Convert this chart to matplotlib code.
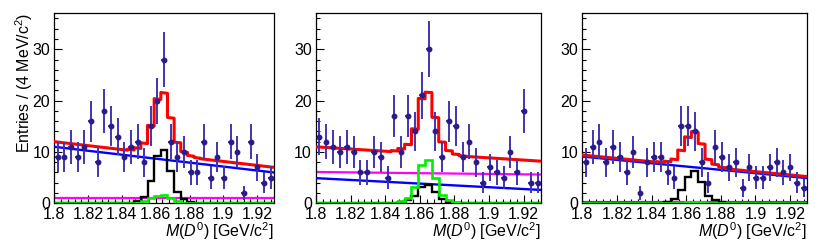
import numpy as np
import matplotlib
matplotlib.use("Agg")
import matplotlib.pyplot as plt
from matplotlib.ticker import MultipleLocator

plt.rcParams['font.family'] = ['Liberation Sans', 'DejaVu Sans']
plt.rcParams['mathtext.fontset'] = 'custom'
plt.rcParams['mathtext.rm'] = 'Liberation Sans'
plt.rcParams['mathtext.it'] = 'Liberation Sans:italic'

# ---------------- data ----------------
x_min, x_max, n_bins = 1.80, 1.93, 33
x_ticks = [1.80, 1.82, 1.84, 1.86, 1.88, 1.90, 1.92]
x_tick_labels = ["1.8", "1.82", "1.84", "1.86", "1.88", "1.9", "1.92"]
y_ticks = [0, 10, 20, 30]

counts1 = [9, 9, 11, 9, 11, 16, 8, 18, 15, 13, 9, 11, 12, 8, 15, 20, 28,
           12, 9, 10, 6, 6, 12, 5, 9, 5, 12, 10, 2, 12, 7, 4, 5]
counts2 = [13, 12, 11, 10, 11, 10, 6, 6, 10, 9, 5, 17, 10, 17, 14, 21, 30,
           14, 9, 16, 15, 9, 12, 8, 4, 7, 6, 5, 10, 6, 18, 4, 4]
counts3 = [8, 11, 12, 8, 11, 9, 6, 10, 2, 8, 9, 9, 6, 5, 15, 15, 14,
           8, 4, 11, 9, 7, 8, 3, 7, 5, 5, 7, 8, 6, 7, 4, 3]

# linear background (blue) end values, flat peaking bkg (magenta) end values
blue1 = [11.0, 6.0]
blue2 = [4.9, 2.6]
blue3 = [9.1, 4.9]
magenta1 = [1.0, 1.0]
magenta2 = [6.1, 5.6]
magenta3 = [0.3, 0.3]

# binned signal shapes (black) and peaking component (green)
black1 = [0, 0, 0, 0, 0, 0, 0, 0, 0, 0, 0,
          0.15, 0.5, 1.3, 4.3, 9.2, 10.4, 6.3, 2.2, 0.8, 0.3, 0.1,
          0, 0, 0, 0, 0, 0, 0, 0, 0, 0, 0]
green1 = [0, 0, 0, 0, 0, 0, 0, 0, 0, 0, 0,
          0.05, 0.15, 0.45, 1.0, 1.45, 1.6, 1.0, 0.45, 0.15, 0.05, 0,
          0, 0, 0, 0, 0, 0, 0, 0, 0, 0, 0]
black2 = [0, 0, 0, 0, 0, 0, 0, 0, 0, 0, 0,
          0.05, 0.2, 0.6, 1.5, 3.2, 3.6, 2.2, 0.9, 0.3, 0.1, 0,
          0, 0, 0, 0, 0, 0, 0, 0, 0, 0, 0]
green2 = [0, 0, 0, 0, 0, 0, 0, 0, 0, 0, 0,
          0.15, 0.5, 1.0, 3.2, 7.5, 8.4, 5.0, 1.6, 0.6, 0.2, 0.05,
          0, 0, 0, 0, 0, 0, 0, 0, 0, 0, 0]
black3 = [0, 0, 0, 0, 0, 0, 0, 0, 0, 0, 0,
          0.1, 0.3, 0.8, 2.6, 5.2, 6.3, 4.2, 1.4, 0.6, 0.2, 0.05,
          0, 0, 0, 0, 0, 0, 0, 0, 0, 0, 0]
green3 = [0, 0, 0, 0, 0, 0, 0, 0, 0, 0, 0,
          0, 0.03, 0.08, 0.15, 0.25, 0.3, 0.2, 0.1, 0.05, 0, 0,
          0, 0, 0, 0, 0, 0, 0, 0, 0, 0, 0]

panels = [
    (counts1, blue1, magenta1, black1, green1),
    (counts2, blue2, magenta2, black2, green2),
    (counts3, blue3, magenta3, black3, green3),
]

# ---------------- layout ----------------
W, H = 830, 243
fig = plt.figure(figsize=(W / 100, H / 100), dpi=100)
frames = [(54.3, 274.0), (316.0, 541.0), (582.3, 807.3)]
top_px, bot_px = 13.3, 203.3

edges = np.linspace(x_min, x_max, n_bins + 1)
centers = 0.5 * (edges[:-1] + edges[1:])
bw = edges[1] - edges[0]

def lin(vals, x):
    return vals[0] + (vals[1] - vals[0]) * (x - x_min) / (x_max - x_min)

FS = 11.5
pt_color = '#2b1a8a'
bar_color = '#4134b0'

for k, ((cnt, blue, mag, blk, grn), (l, r)) in enumerate(zip(panels, frames)):
    ax = fig.add_axes([l / W, 1 - bot_px / H, (r - l) / W, (bot_px - top_px) / H])
    cnt = np.array(cnt, float)
    blk = np.array(blk, float)
    grn = np.array(grn, float)

    # total fit curve (red) = sum of the components
    xs, ys = [], []
    for i in range(n_bins):
        for xx in (edges[i], edges[i + 1]):
            xs.append(xx)
            ys.append(lin(blue, xx) + lin(mag, xx) + blk[i] + grn[i])

    ax.plot([x_min, x_max], [lin(mag, x_min), lin(mag, x_max)], color='#ff00ff', lw=1.6, zorder=2)
    ax.plot([x_min, x_max], [lin(blue, x_min), lin(blue, x_max)], color='#0000ff', lw=1.7, zorder=3)
    ax.stairs(blk, edges, color='black', lw=1.7, zorder=4)
    ax.stairs(grn, edges, color='#00ee00', lw=1.9, zorder=4)
    ax.plot(xs, ys, color='#ff0000', lw=2.2, zorder=5)

    ax.errorbar(centers, cnt, yerr=np.sqrt(cnt), xerr=0.4 * bw, fmt='none',
                ecolor=bar_color, elinewidth=1.4, capsize=0, zorder=6)
    ax.plot(centers, cnt, 'o', ms=3.2, color=pt_color, mec=pt_color, zorder=7)

    ax.set_xlim(x_min, x_max)
    ax.set_ylim(0, 37)
    ax.set_xticks(x_ticks)
    ax.set_xticklabels(x_tick_labels)
    ax.set_yticks(y_ticks)
    ax.xaxis.set_minor_locator(MultipleLocator(0.004))
    ax.yaxis.set_minor_locator(MultipleLocator(2))
    ax.tick_params(which='both', direction='in', top=False, right=False,
                   labelsize=FS, width=0.8)
    ax.tick_params(which='major', length=6)
    ax.tick_params(which='minor', length=3)
    ax.tick_params(axis='x', pad=3)
    ax.tick_params(axis='y', pad=3)
    for s in ax.spines.values():
        s.set_linewidth(0.9)

    fig.text(r / W, 1 - 236.5 / H, r'$M(D^0)$ [GeV/c$^2$]', ha='right',
             va='baseline', fontsize=FS)

fig.text(24 / W, 1 - 13 / H, r'Entries / (4 MeV/c$^2$)', rotation=90,
         ha='center', va='top', fontsize=FS)

fig.savefig('out.png', dpi=100)
